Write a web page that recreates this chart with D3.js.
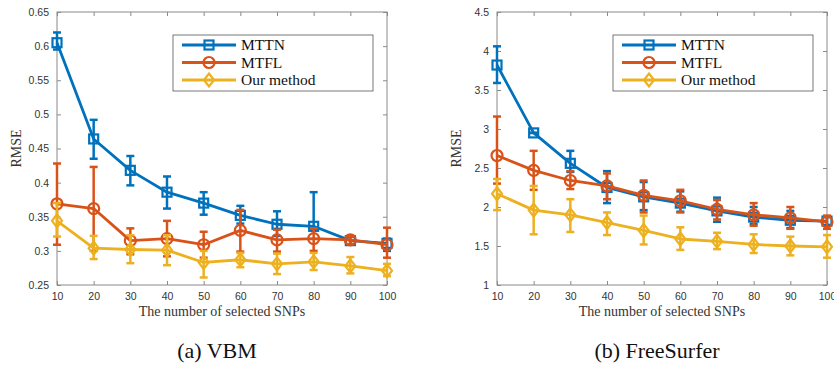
<!DOCTYPE html>
<html><head><meta charset="utf-8">
<script src="https://cdn.jsdelivr.net/npm/d3@7"></script>
<style>body{margin:0;background:#fff}svg{display:block}
.serif{font-family:"Liberation Serif","Tinos","Times New Roman","DejaVu Serif",serif}
.sans{font-family:"Liberation Sans",Arimo,Arial,sans-serif}</style>
</head><body>
<svg id="c" width="834" height="370"></svg>
<script>
const snps = [10,20,30,40,50,60,70,80,90,100];
const seriesNames = ["MTTN","MTFL","Our method"];
const colors = ["#0072BD","#D95319","#EDB120"];

// (a) VBM
const vbmMTTN     = [0.605,0.464,0.418,0.386,0.370,0.352,0.339,0.336,0.315,0.311];
const vbmMTTNlo   = [0.595,0.435,0.396,0.362,0.353,0.340,0.322,0.330,0.309,0.300];
const vbmMTTNhi   = [0.620,0.492,0.439,0.409,0.386,0.366,0.358,0.386,0.321,0.318];
const vbmMTFL     = [0.369,0.362,0.315,0.318,0.309,0.330,0.316,0.318,0.316,0.309];
const vbmMTFLlo   = [0.309,0.300,0.295,0.292,0.290,0.299,0.299,0.300,0.310,0.290];
const vbmMTFLhi   = [0.428,0.423,0.333,0.344,0.328,0.360,0.331,0.333,0.322,0.334];
const vbmOurs     = [0.344,0.304,0.302,0.301,0.283,0.287,0.281,0.284,0.278,0.271];
const vbmOurslo   = [0.321,0.288,0.282,0.279,0.261,0.276,0.266,0.272,0.267,0.263];
const vbmOurshi   = [0.370,0.322,0.323,0.323,0.300,0.297,0.296,0.297,0.291,0.281];
const vbmTicks    = [0.25,0.3,0.35,0.4,0.45,0.5,0.55,0.6,0.65];

// (b) FreeSurfer
const fsMTTN      = [3.82,2.95,2.56,2.25,2.13,2.05,1.95,1.87,1.83,1.82];
const fsMTTNlo    = [3.59,2.95,2.45,2.05,1.96,1.94,1.81,1.78,1.73,1.77];
const fsMTTNhi    = [4.06,2.95,2.72,2.46,2.32,2.20,2.12,2.00,1.95,1.87];
const fsMTFL      = [2.66,2.47,2.34,2.27,2.15,2.08,1.97,1.90,1.86,1.81];
const fsMTFLlo    = [2.30,2.22,2.23,2.10,1.93,1.93,1.84,1.76,1.72,1.72];
const fsMTFLhi    = [3.16,2.72,2.46,2.43,2.34,2.22,2.09,2.05,2.00,1.89];
const fsOurs      = [2.17,1.96,1.90,1.80,1.70,1.59,1.56,1.52,1.50,1.49];
const fsOurslo    = [1.96,1.65,1.68,1.64,1.52,1.45,1.46,1.41,1.38,1.35];
const fsOurshi    = [2.36,2.27,2.10,1.93,1.89,1.74,1.67,1.65,1.62,1.64];
const fsTicks     = [1,1.5,2,2.5,3,3.5,4,4.5];

const xTicks = snps;
const xLabel = "The number of selected SNPs";
const yLabel = "RMSE";

const svg = d3.select("#c");
const axisColor = "#8a8a8a";
const tickText = "#333";

function panel(opt){
  const {x0,x1,y0,y1,yDomain,yTicks,series,caption,legendX} = opt;
  const g = svg.append("g");
  const x = d3.scaleLinear().domain([10,100]).range([x0,x1]);
  const y = d3.scaleLinear().domain(yDomain).range([y1,y0]);
  g.append("rect").attr("x",x0).attr("y",y0).attr("width",x1-x0).attr("height",y1-y0)
    .attr("fill","none").attr("stroke",axisColor).attr("stroke-width",1);
  const bx = g.append("g").attr("transform",`translate(0,${y1})`)
    .call(d3.axisBottom(x).tickValues(xTicks).tickSizeInner(-4).tickSizeOuter(0).tickPadding(8).tickFormat(d3.format("d")));
  const tx = g.append("g").attr("transform",`translate(0,${y0})`)
    .call(d3.axisTop(x).tickValues(xTicks).tickSizeInner(-4).tickSizeOuter(0).tickFormat(""));
  const ly = g.append("g").attr("transform",`translate(${x0},0)`)
    .call(d3.axisLeft(y).tickValues(yTicks).tickSizeInner(-4).tickSizeOuter(0).tickPadding(8).tickFormat(d=>String(d)));
  const ry = g.append("g").attr("transform",`translate(${x1},0)`)
    .call(d3.axisRight(y).tickValues(yTicks).tickSizeInner(-4).tickSizeOuter(0).tickFormat(""));
  [bx,tx,ly,ry].forEach(a=>{
    a.attr("font-family",null);
    a.select(".domain").remove();
    a.selectAll(".tick line").attr("stroke",axisColor);
    a.selectAll(".tick text").attr("fill",tickText).attr("class","sans").attr("font-size",10.5);
  });
  const cap = 4;
  series.forEach((s,si)=>{
    const c = colors[si];
    const pts = snps.map((v,i)=>({x:v,y:s.v[i],lo:s.lo[i],hi:s.hi[i]}));
    const sg = g.append("g");
    pts.forEach(p=>{
      sg.append("line").attr("x1",x(p.x)).attr("x2",x(p.x)).attr("y1",y(p.lo)).attr("y2",y(p.hi))
        .attr("stroke",c).attr("stroke-width",2.5);
      [p.lo,p.hi].forEach(e=>{
        sg.append("line").attr("x1",x(p.x)-cap).attr("x2",x(p.x)+cap).attr("y1",y(e)).attr("y2",y(e))
          .attr("stroke",c).attr("stroke-width",2.5);
      });
    });
    sg.append("path").datum(pts).attr("d",d3.line().x(d=>x(d.x)).y(d=>y(d.y)))
      .attr("fill","none").attr("stroke",c).attr("stroke-width",2.8).attr("stroke-linejoin","round");
    pts.forEach(p=>marker(sg,si,x(p.x),y(p.y),c));
  });
  const lx = legendX, ly0 = 35, lw = 200, lh = 56;
  g.append("rect").attr("x",lx).attr("y",ly0).attr("width",lw).attr("height",lh)
    .attr("fill","#fff").attr("stroke","#555").attr("stroke-width",0.8);
  seriesNames.forEach((n,i)=>{
    const yy = ly0+10+i*17.5;
    g.append("line").attr("x1",lx+9).attr("x2",lx+63).attr("y1",yy).attr("y2",yy)
      .attr("stroke",colors[i]).attr("stroke-width",2.8);
    marker(g,i,lx+36,yy,colors[i]);
    g.append("text").attr("x",lx+68).attr("y",yy+5).text(n).attr("class","serif")
      .attr("font-size",15.5).attr("fill","#111");
  });
  g.append("text").attr("x",(x0+x1)/2).attr("y",y1+31).attr("text-anchor","middle").text(xLabel)
    .attr("class","serif").attr("font-size",14).attr("fill","#333");
  g.append("text").attr("transform",`translate(${x0-36},${(y0+y1)/2}) rotate(-90)`).attr("text-anchor","middle").text(yLabel)
    .attr("class","serif").attr("font-size",14).attr("fill","#333");
  g.append("text").attr("x",(x0+x1)/2 - 5).attr("y",358).attr("text-anchor","middle").text(caption)
    .attr("class","serif").attr("font-size",22).attr("fill","#111");
}

function marker(g,si,cx,cy,c){
  if(si===0){
    g.append("rect").attr("x",cx-4.5).attr("y",cy-4.5).attr("width",9).attr("height",9)
      .attr("fill","none").attr("stroke",c).attr("stroke-width",2.2);
  } else if(si===1){
    g.append("circle").attr("cx",cx).attr("cy",cy).attr("r",5.5)
      .attr("fill","none").attr("stroke",c).attr("stroke-width",2.2);
  } else {
    g.append("path").attr("d",`M${cx},${cy-6.5}L${cx+5},${cy}L${cx},${cy+6.5}L${cx-5},${cy}Z`)
      .attr("fill","none").attr("stroke",c).attr("stroke-width",2.2);
  }
}

panel({x0:57,x1:387,y0:12,y1:285,yDomain:[0.25,0.65],yTicks:vbmTicks,legendX:173,caption:"(a) VBM",
  series:[{v:vbmMTTN,lo:vbmMTTNlo,hi:vbmMTTNhi},{v:vbmMTFL,lo:vbmMTFLlo,hi:vbmMTFLhi},{v:vbmOurs,lo:vbmOurslo,hi:vbmOurshi}]});
panel({x0:497,x1:827,y0:12,y1:285,yDomain:[1,4.5],yTicks:fsTicks,legendX:613,caption:"(b) FreeSurfer",
  series:[{v:fsMTTN,lo:fsMTTNlo,hi:fsMTTNhi},{v:fsMTFL,lo:fsMTFLlo,hi:fsMTFLhi},{v:fsOurs,lo:fsOurslo,hi:fsOurshi}]});
</script>
</body></html>
